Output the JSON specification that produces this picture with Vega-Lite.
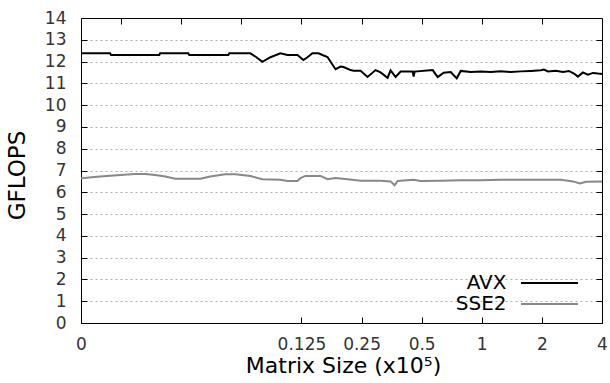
{
  "$schema": "https://vega.github.io/schema/vega-lite/v6.json",
  "width": 521,
  "height": 305,
  "autosize": {"type": "none"},
  "padding": {"left": 81, "top": 18, "right": 8, "bottom": 60},
  "background": "white",
  "config": {"view": {"stroke": null}, "font": "DejaVu Sans"},
  "data": {"values": [
    {"series": "AVX", "size": 0.00984, "gflops": 12.38},
    {"series": "AVX", "size": 0.01377, "gflops": 12.38},
    {"series": "AVX", "size": 0.01391, "gflops": 12.30},
    {"series": "AVX", "size": 0.02426, "gflops": 12.30},
    {"series": "AVX", "size": 0.02452, "gflops": 12.38},
    {"series": "AVX", "size": 0.03389, "gflops": 12.38},
    {"series": "AVX", "size": 0.03427, "gflops": 12.30},
    {"series": "AVX", "size": 0.05381, "gflops": 12.30},
    {"series": "AVX", "size": 0.05441, "gflops": 12.38},
    {"series": "AVX", "size": 0.06935, "gflops": 12.38},
    {"series": "AVX", "size": 0.07433, "gflops": 12.20},
    {"series": "AVX", "size": 0.07966, "gflops": 11.99},
    {"series": "AVX", "size": 0.0874, "gflops": 12.20},
    {"series": "AVX", "size": 0.09808, "gflops": 12.38},
    {"series": "AVX", "size": 0.1064, "gflops": 12.30},
    {"series": "AVX", "size": 0.1194, "gflops": 12.30},
    {"series": "AVX", "size": 0.1279, "gflops": 12.07},
    {"series": "AVX", "size": 0.134, "gflops": 12.20},
    {"series": "AVX", "size": 0.1419, "gflops": 12.38},
    {"series": "AVX", "size": 0.1521, "gflops": 12.38},
    {"series": "AVX", "size": 0.1593, "gflops": 12.30},
    {"series": "AVX", "size": 0.1688, "gflops": 12.21},
    {"series": "AVX", "size": 0.1852, "gflops": 11.65},
    {"series": "AVX", "size": 0.1962, "gflops": 11.77},
    {"series": "AVX", "size": 0.2031, "gflops": 11.75},
    {"series": "AVX", "size": 0.2202, "gflops": 11.61},
    {"series": "AVX", "size": 0.228, "gflops": 11.58},
    {"series": "AVX", "size": 0.2471, "gflops": 11.58},
    {"series": "AVX", "size": 0.2679, "gflops": 11.29},
    {"series": "AVX", "size": 0.2939, "gflops": 11.61},
    {"series": "AVX", "size": 0.3114, "gflops": 11.50},
    {"series": "AVX", "size": 0.3376, "gflops": 11.25},
    {"series": "AVX", "size": 0.3495, "gflops": 11.60},
    {"series": "AVX", "size": 0.3702, "gflops": 11.29},
    {"series": "AVX", "size": 0.3923, "gflops": 11.54},
    {"series": "AVX", "size": 0.4506, "gflops": 11.54},
    {"series": "AVX", "size": 0.4559, "gflops": 11.31},
    {"series": "AVX", "size": 0.4611, "gflops": 11.54},
    {"series": "AVX", "size": 0.5677, "gflops": 11.61},
    {"series": "AVX", "size": 0.6015, "gflops": 11.29},
    {"series": "AVX", "size": 0.6447, "gflops": 11.49},
    {"series": "AVX", "size": 0.699, "gflops": 11.52},
    {"series": "AVX", "size": 0.7491, "gflops": 11.23},
    {"series": "AVX", "size": 0.7845, "gflops": 11.57},
    {"series": "AVX", "size": 0.8807, "gflops": 11.52},
    {"series": "AVX", "size": 0.9886, "gflops": 11.54},
    {"series": "AVX", "size": 1.1095, "gflops": 11.52},
    {"series": "AVX", "size": 1.2454, "gflops": 11.55},
    {"series": "AVX", "size": 1.3977, "gflops": 11.52},
    {"series": "AVX", "size": 1.569, "gflops": 11.55},
    {"series": "AVX", "size": 1.761, "gflops": 11.57},
    {"series": "AVX", "size": 1.977, "gflops": 11.60},
    {"series": "AVX", "size": 2.047, "gflops": 11.63},
    {"series": "AVX", "size": 2.144, "gflops": 11.55},
    {"series": "AVX", "size": 2.351, "gflops": 11.58},
    {"series": "AVX", "size": 2.549, "gflops": 11.52},
    {"series": "AVX", "size": 2.732, "gflops": 11.57},
    {"series": "AVX", "size": 2.895, "gflops": 11.45},
    {"series": "AVX", "size": 3.031, "gflops": 11.31},
    {"series": "AVX", "size": 3.211, "gflops": 11.50},
    {"series": "AVX", "size": 3.403, "gflops": 11.40},
    {"series": "AVX", "size": 3.605, "gflops": 11.48},
    {"series": "AVX", "size": 3.819, "gflops": 11.45},
    {"series": "AVX", "size": 4.0, "gflops": 11.43},
    {"series": "SSE2", "size": 0.00984, "gflops": 6.64},
    {"series": "SSE2", "size": 0.01226, "gflops": 6.72},
    {"series": "SSE2", "size": 0.01548, "gflops": 6.79},
    {"series": "SSE2", "size": 0.0184, "gflops": 6.84},
    {"series": "SSE2", "size": 0.02062, "gflops": 6.84},
    {"series": "SSE2", "size": 0.02317, "gflops": 6.79},
    {"series": "SSE2", "size": 0.026, "gflops": 6.72},
    {"series": "SSE2", "size": 0.02916, "gflops": 6.62},
    {"series": "SSE2", "size": 0.03893, "gflops": 6.62},
    {"series": "SSE2", "size": 0.0437, "gflops": 6.72},
    {"series": "SSE2", "size": 0.05196, "gflops": 6.83},
    {"series": "SSE2", "size": 0.05831, "gflops": 6.83},
    {"series": "SSE2", "size": 0.06935, "gflops": 6.75},
    {"series": "SSE2", "size": 0.07966, "gflops": 6.60},
    {"series": "SSE2", "size": 0.09808, "gflops": 6.58},
    {"series": "SSE2", "size": 0.1064, "gflops": 6.52},
    {"series": "SSE2", "size": 0.1194, "gflops": 6.52},
    {"series": "SSE2", "size": 0.1236, "gflops": 6.65},
    {"series": "SSE2", "size": 0.1309, "gflops": 6.75},
    {"series": "SSE2", "size": 0.1557, "gflops": 6.75},
    {"series": "SSE2", "size": 0.1688, "gflops": 6.60},
    {"series": "SSE2", "size": 0.1852, "gflops": 6.66},
    {"series": "SSE2", "size": 0.2127, "gflops": 6.60},
    {"series": "SSE2", "size": 0.2471, "gflops": 6.53},
    {"series": "SSE2", "size": 0.3114, "gflops": 6.53},
    {"series": "SSE2", "size": 0.3495, "gflops": 6.50},
    {"series": "SSE2", "size": 0.366, "gflops": 6.32},
    {"series": "SSE2", "size": 0.3789, "gflops": 6.52},
    {"series": "SSE2", "size": 0.4559, "gflops": 6.58},
    {"series": "SSE2", "size": 0.4943, "gflops": 6.52},
    {"series": "SSE2", "size": 0.6228, "gflops": 6.53},
    {"series": "SSE2", "size": 0.7845, "gflops": 6.55},
    {"series": "SSE2", "size": 0.9886, "gflops": 6.55},
    {"series": "SSE2", "size": 1.2454, "gflops": 6.57},
    {"series": "SSE2", "size": 1.569, "gflops": 6.57},
    {"series": "SSE2", "size": 1.977, "gflops": 6.58},
    {"series": "SSE2", "size": 2.491, "gflops": 6.57},
    {"series": "SSE2", "size": 2.862, "gflops": 6.50},
    {"series": "SSE2", "size": 3.102, "gflops": 6.40},
    {"series": "SSE2", "size": 3.325, "gflops": 6.48},
    {"series": "SSE2", "size": 4.0, "gflops": 6.49}
  ]},
  "layer": [
    {
      "mark": {"type": "line", "opacity": 0},
      "encoding": {
        "x": {"field": "size", "type": "quantitative",
          "scale": {"type": "log", "base": 2, "domain": [0.00984, 4], "nice": false, "zero": false},
          "axis": {"orient": "top", "values": [0.015625, 0.03125, 0.0625, 0.125, 0.25, 0.5, 1, 2], "labels": false, "tickSize": -6, "tickColor": "#000", "domain": true, "domainColor": "#000", "grid": false, "title": null}},
        "y": {"field": "gflops", "type": "quantitative",
          "scale": {"domain": [0, 14], "nice": false},
          "axis": {"orient": "right", "values": [1,2,3,4,5,6,7,8,9,10,11,12,13], "labels": false, "tickSize": -6, "tickColor": "#000", "domain": true, "domainColor": "#000", "grid": true, "gridColor": "#aaaaaa", "gridDash": [2, 3], "gridWidth": 1, "title": null}},
        "detail": {"field": "series"}
      }
    },
    {
      "mark": {"type": "line", "strokeWidth": 2},
      "encoding": {
        "x": {"field": "size", "type": "quantitative",
          "axis": {"orient": "bottom", "values": [0.00984, 0.125, 0.25, 0.5, 1, 2, 4],
            "labelExpr": "datum.value < 0.05 ? '0' : format(datum.value, '~g')",
            "labelFontSize": 17, "labelColor": "#333", "labelPadding": 19, "labelFlush": false, "labelOverlap": false, "labelBound": false,
            "tickSize": -6, "tickColor": "#000", "domain": true, "domainColor": "#000", "grid": false,
            "title": "Matrix Size (x10⁵)", "titleFontSize": 22, "titleFontWeight": "normal", "titleColor": "#000",
            "titleX": 262, "titleY": 49, "titleBaseline": "alphabetic", "titleAlign": "center"}},
        "y": {"field": "gflops", "type": "quantitative",
          "axis": {"orient": "left", "values": [0,1,2,3,4,5,6,7,8,9,10,11,12,13,14],
            "labelFontSize": 17, "labelColor": "#333", "labelPadding": 21,
            "tickSize": -6, "tickColor": "#000", "domain": true, "domainColor": "#000", "grid": false,
            "title": "GFLOPS", "titleFontSize": 23, "titleFontWeight": "normal", "titleColor": "#000",
            "titleX": -64, "titleY": 157, "titleBaseline": "middle", "titleAlign": "center", "titleAngle": -90}},
        "color": {"field": "series", "type": "nominal",
          "scale": {"domain": ["AVX", "SSE2"], "range": ["#000000", "#888888"]},
          "legend": {"orient": "none", "legendX": 440, "legendY": 254, "title": null, "padding": 0,
            "symbolType": "M-2.85,0H2.85", "symbolSize": 400, "symbolStrokeWidth": 2, "symbolOffset": 17.5,
            "labelFontSize": 20, "labelColor": "#000", "labelAlign": "right", "labelOffset": -54,
            "labelBaseline": "middle", "rowPadding": 0, "labelLimit": 200}}
      }
    }
  ],
  "resolve": {"axis": {"x": "independent", "y": "independent"}}
}
